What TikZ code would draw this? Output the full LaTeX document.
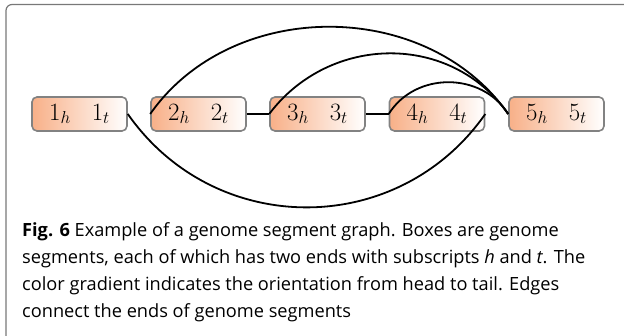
\documentclass[tikz,border=0pt]{standalone}
\usepackage{fontspec}
\setsansfont{Open Sans}
\usetikzlibrary{shadings}
\definecolor{segorange}{RGB}{248,176,136}
\definecolor{framegray}{RGB}{120,120,120}
\definecolor{boxgray}{RGB}{130,130,130}
\tikzset{
  segbox/.style={draw=boxgray, line width=1.6pt, rounded corners=5pt,
    left color=segorange, right color=white,
    minimum width=95pt, minimum height=34pt, inner sep=0pt,
    font=\fontsize{23}{27}\selectfont},
  edge/.style={line width=1.8pt, black},
  captext/.style={anchor=base west, inner sep=0pt,
    font=\sffamily\fontsize{18.2}{22}\selectfont}
}
\newcommand{\segends}[1]{$#1_h$\hspace{21pt}$#1_t$}
\begin{document}
\begin{tikzpicture}[x=1pt,y=-1pt]
  \useasboundingbox (0,0) rectangle (624,336);
  % open frame: top and left sides only
  \draw[framegray, line width=1.2pt, rounded corners=6pt]
    (6,336) -- (6,4.5) -- (624,4.5);

  % genome segments
  \node[segbox] (s1) at (79.5,114) {\segends{1}};
  \node[segbox] (s2) at (198.5,114) {\segends{2}};
  \node[segbox] (s3) at (317.5,114) {\segends{3}};
  \node[segbox] (s4) at (437,114) {\segends{4}};
  \node[segbox] (s5) at (556.5,114) {\segends{5}};

  % adjacencies between neighbouring segments
  \draw[edge] (s2.east) -- (s3.west);
  \draw[edge] (s3.east) -- (s4.west);

  % long-range adjacencies (y axis points down, so upward is a negative angle)
  \draw[edge] (s2.west) .. controls +(-55:142) and +(-125:142) .. (s5.west);
  \draw[edge] (s3.west) .. controls +(-53:100) and +(-125:100) .. (s5.west);
  \draw[edge] (s4.west) .. controls +(-58:50) and +(-122:50) .. (s5.west);
  \draw[edge] (s1.east) .. controls +(55:152) and +(125:152) .. (s4.east);

  % caption
  \node[captext] (c1) at (22,237) {\textbf{Fig. 6} Example of a genome segment graph. Boxes are genome};
  \node[captext] (c2) at (22,263.7) {segments, each of which has two ends with subscripts \textit{h} and \textit{t}. The};
  \node[captext] (c3) at (22,290.4) {color gradient indicates the orientation from head to tail. Edges};
  \node[captext] (c4) at (22,317.1) {connect the ends of genome segments};
\end{tikzpicture}
\end{document}
